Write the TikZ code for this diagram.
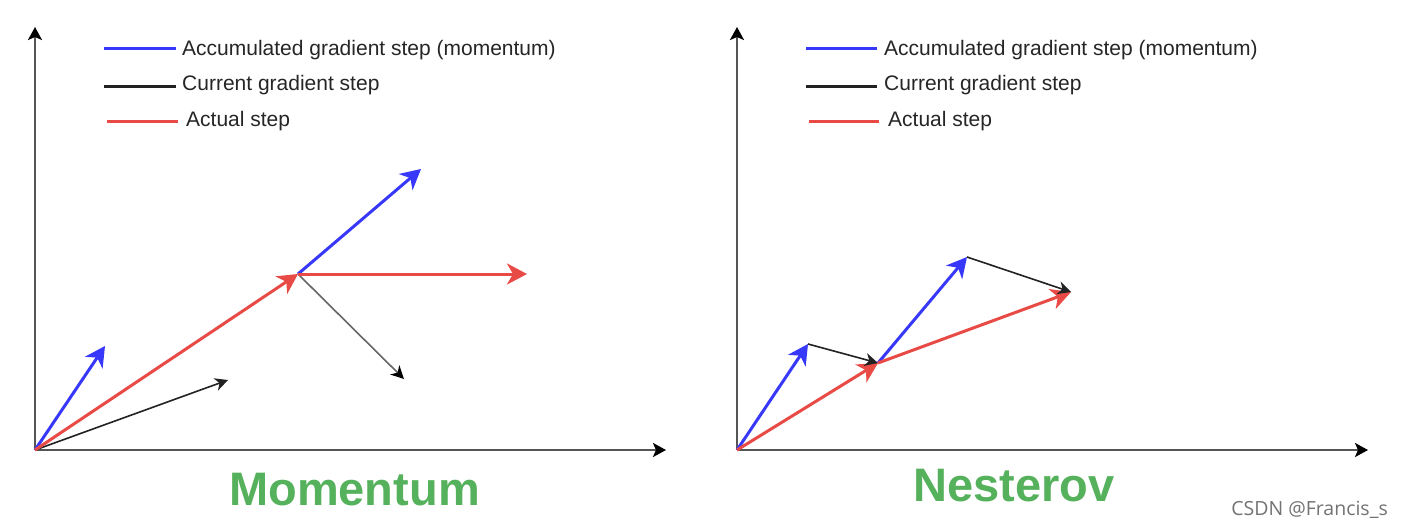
\documentclass[tikz,border=0pt]{standalone}
\usepackage{fontspec}
\setmainfont{Liberation Sans}
\newfontfamily\wmfont{Open Sans}
\usetikzlibrary{arrows.meta}
\definecolor{vblue}{HTML}{3838FA}
\definecolor{vred}{HTML}{E84B45}
\definecolor{vgreen}{HTML}{55B15B}
\definecolor{vaxis}{HTML}{555555}
\definecolor{vgrad}{HTML}{222222}
\tikzset{
  tipa/.style={-{Stealth[length=20pt,width=21pt,inset=6pt]}},
  axisline/.style={draw=vaxis,line width=2.4pt,-{Stealth[length=13pt,width=14pt,inset=3pt,color=black]}},
  accstep/.style={draw=vblue,line width=3pt,tipa},
  curstep/.style={draw=vgrad,line width=1.6pt,-{Stealth[length=13pt,width=13pt,inset=4pt]}},
  actstep/.style={draw=vred,line width=3pt,tipa},
  legtext/.style={anchor=base west,inner sep=0pt,font=\fontsize{21}{25}\selectfont,text=black!85},
  title/.style={anchor=base west,inner sep=0pt,font=\fontsize{47}{52}\selectfont\bfseries,text=vgreen},
}
\begin{document}
\begin{tikzpicture}[x=1pt,y=-1pt]
\useasboundingbox[fill=white] (0,0) rectangle (1402,528);
% ---------- Momentum panel ----------
\coordinate (O1) at (35,450);
\coordinate (Y1) at (35,27);
\coordinate (X1) at (666,450);
\draw[axisline] (O1) -- (Y1);
\draw[axisline] (O1) -- (X1);
% legend
\coordinate (lb1a) at (104,48); \coordinate (lb1b) at (176,48);
\coordinate (lk1a) at (104,86); \coordinate (lk1b) at (176,86);
\coordinate (lr1a) at (107,121); \coordinate (lr1b) at (178,121);
\draw[vblue,line width=3pt] (lb1a) -- (lb1b);
\draw[vgrad,line width=3pt] (lk1a) -- (lk1b);
\draw[vred,line width=3pt] (lr1a) -- (lr1b);
\node[legtext] (ta1) at (182,55) {Accumulated gradient step (momentum)};
\node[legtext] (tc1) at (182,90) {Current gradient step};
\node[legtext] (tr1) at (186,126) {Actual step};
% vectors
\coordinate (B1) at (105,346);
\coordinate (K1) at (228,380);
\coordinate (J1) at (298,274);
\coordinate (B2) at (421,169);
\coordinate (R2) at (527,274);
\coordinate (K2) at (404,379);
\draw[curstep] (O1) -- (K1);
\draw[accstep] (O1) -- (B1);
\draw[actstep] (O1) -- (J1);
\draw[draw=black!60,line width=1.6pt,-{Stealth[length=13pt,width=13pt,inset=4pt,color=black]}] (J1) -- (K2);
\draw[accstep] (J1) -- (B2);
\draw[actstep] (J1) -- (R2);
\node[title] (mom) at (229,505) {Momentum};
% ---------- Nesterov panel ----------
\coordinate (O2) at (737,450);
\coordinate (Y2) at (737,27);
\coordinate (X2) at (1368,450);
\draw[axisline] (O2) -- (Y2);
\draw[axisline] (O2) -- (X2);
\coordinate (lb2a) at (806,48); \coordinate (lb2b) at (877,48);
\coordinate (lk2a) at (806,86); \coordinate (lk2b) at (877,86);
\coordinate (lr2a) at (809,121); \coordinate (lr2b) at (879,121);
\draw[vblue,line width=3pt] (lb2a) -- (lb2b);
\draw[vgrad,line width=3pt] (lk2a) -- (lk2b);
\draw[vred,line width=3pt] (lr2a) -- (lr2b);
\node[legtext] (ta2) at (884,55) {Accumulated gradient step (momentum)};
\node[legtext] (tc2) at (884,90) {Current gradient step};
\node[legtext] (tr2) at (888,126) {Actual step};
\coordinate (NB1) at (808,344);
\coordinate (NJ) at (878,363);
\coordinate (NB2) at (967,257);
\coordinate (NE) at (1071,292);
\draw[accstep] (O2) -- (NB1);
\draw[actstep] (O2) -- (NJ);
\draw[curstep] (NB1) -- (NJ);
\draw[accstep] (NJ) -- (NB2);
\draw[actstep] (NJ) -- (NE);
\draw[curstep] (NB2) -- (NE);
\node[title] (nes) at (913,501) {Nesterov};
\node[anchor=base east,inner sep=0pt,font=\wmfont\fontsize{19.5}{22}\selectfont,text=black!55] (wm) at (1388,515) {CSDN @Francis\_s};
\end{tikzpicture}
\end{document}
